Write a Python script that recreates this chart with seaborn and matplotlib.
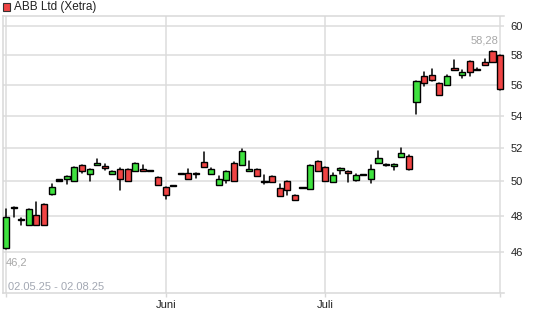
import numpy as np
import pandas as pd
import matplotlib
matplotlib.use("Agg")
import matplotlib.pyplot as plt
from matplotlib.patches import Rectangle
from matplotlib.ticker import FixedLocator, NullLocator
import seaborn as sns

title = "ABB Ltd (Xetra)"
date_range = "02.05.25 - 02.08.25"
month_idx = [0, 21, 42, 65]
month_labels = ["", "Juni", "Juli", ""]
y_ticks = [46, 48, 50, 52, 54, 56, 58, 60]

opens = [46.2, 48.47, 47.8, 47.5, 48.04, 48.67, 49.24, 50.06, 50.1, 49.98,
         50.94, 50.42, 50.94, 50.88, 50.4, 50.74, 50.7, 50.58, 50.7, 50.62,
         50.26, 49.64, 49.76, 50.44, 50.46, 50.44, 51.12, 50.44, 49.76, 50.04,
         51.06, 50.94, 50.62, 50.74, 50.0, 50.28, 49.58, 49.98, 49.18, 49.64,
         49.56, 51.18, 50.82, 49.93, 50.64, 50.58, 50.08, 50.4, 50.14, 51.06,
         51.02, 50.9, 51.44, 51.5, 54.89, 56.57, 56.63, 56.1, 56.0, 57.1,
         56.63, 57.57, 57.0, 57.52, 58.28, 57.98]
highs = [48.4, 48.5, 47.85, 48.38, 48.77, 48.67, 49.84, 50.06, 50.28, 50.82,
         50.96, 50.72, 51.32, 51.02, 50.58, 50.76, 50.72, 51.06, 50.96, 50.62,
         50.26, 49.64, 49.76, 50.44, 50.72, 50.46, 51.72, 50.78, 50.32, 50.58,
         51.14, 51.9, 51.2, 50.74, 50.35, 50.28, 49.8, 49.98, 49.18, 49.64,
         50.94, 51.18, 50.82, 50.48, 50.76, 50.58, 50.4, 50.4, 50.94, 51.8,
         51.02, 51.02, 52.0, 51.56, 56.23, 56.86, 57.05, 56.1, 56.65, 57.65,
         57.0, 57.57, 57.14, 57.7, 58.28, 57.98]
lows = [46.15, 47.95, 47.5, 47.5, 47.5, 47.5, 49.16, 50.06, 49.84, 49.98,
        50.5, 50.0, 50.94, 50.68, 50.4, 49.49, 49.98, 50.58, 50.58, 50.62,
        49.74, 48.93, 49.76, 50.44, 50.1, 50.2, 50.82, 50.44, 49.76, 49.88,
        49.98, 50.94, 50.62, 50.28, 49.85, 49.93, 49.13, 49.16, 48.89, 49.64,
        49.56, 50.58, 49.98, 49.93, 50.4, 49.97, 50.0, 50.4, 49.88, 51.06,
        50.92, 50.68, 51.44, 50.68, 54.1, 55.92, 56.23, 55.33, 56.0, 56.97,
        56.43, 56.6, 57.0, 57.3, 57.54, 55.65]
closes = [47.95, 48.47, 47.8, 48.38, 47.5, 47.5, 49.64, 50.06, 50.28, 50.82,
          50.62, 50.7, 51.08, 50.76, 50.58, 50.14, 49.98, 51.06, 50.58, 50.62,
          49.74, 49.2, 49.76, 50.44, 50.1, 50.42, 50.82, 50.7, 50.14, 50.58,
          49.98, 51.78, 50.74, 50.28, 50.0, 49.93, 49.13, 49.47, 48.89, 49.64,
          50.94, 50.58, 49.98, 50.34, 50.76, 50.46, 50.34, 50.4, 50.7, 51.36,
          51.0, 51.02, 51.7, 50.74, 56.23, 56.14, 56.3, 55.33, 56.57, 56.97,
          56.84, 56.84, 57.0, 57.3, 57.54, 55.7]

n = len(opens)
idx = np.arange(n)
df = pd.DataFrame({"idx": idx, "open": opens, "high": highs, "low": lows, "close": closes})

sns.set_theme(style="white")
plt.rcParams["font.family"] = ["Liberation Sans", "DejaVu Sans"]

fig = plt.figure(figsize=(5.45, 3.27), dpi=100)
W, H = 545, 327
x_left_px, x_right_px = 3, 503.5
y_top_px, y_bot_px = 16, 293
ax = fig.add_axes([x_left_px / W, 1 - y_bot_px / H,
                   (x_right_px - x_left_px) / W, (y_bot_px - y_top_px) / H])

ax.set_yscale("log")

# wicks via seaborn
wick = pd.concat([df[["idx", "low"]].rename(columns={"low": "price"}),
                  df[["idx", "high"]].rename(columns={"high": "price"})]).sort_values("idx")
sns.lineplot(data=wick, x="idx", y="price", units="idx", estimator=None, sort=False,
             color="black", lw=1.1, ax=ax, legend=False, zorder=2)

# bodies
green, red = "#3fe23f", "#f04444"
lo_b = np.minimum(df["open"], df["close"]).to_numpy()
hi_b = np.maximum(df["open"], df["close"]).to_numpy()
cols = []
for o, c in zip(opens, closes):
    if c > o + 0.02:
        cols.append(green)
    elif c < o - 0.02:
        cols.append(red)
    else:
        cols.append("black")
mid = (lo_b + hi_b) / 2
small = (hi_b - lo_b) < 0.06
lo_b = np.where(small, mid - 0.03, lo_b)
hi_b = np.where(small, mid + 0.03, hi_b)
ax.bar(idx, hi_b - lo_b, bottom=lo_b, width=0.8, color=cols, edgecolor="black",
       linewidth=1.0, zorder=3, clip_on=False)

ax.set_xlim(-0.4, 65.45)
ax.set_ylim(43.83, 60.71)

ax.yaxis.set_major_locator(FixedLocator(y_ticks))
ax.yaxis.set_minor_locator(NullLocator())
ax.set_yticklabels([str(t) for t in y_ticks])
ax.yaxis.tick_right()
ax.tick_params(axis="y", length=0, pad=5, labelsize=8, labelcolor="#222222")
ax.set_xticks(month_idx)
ax.set_xticklabels(month_labels)
ax.tick_params(axis="x", length=3, width=1, color="#d8d8d8", pad=2, labelsize=8,
               labelcolor="#222222", bottom=True)
ax.set_xlabel("")
ax.set_ylabel("")
ax.grid(True, axis="both", color="#dcdcdc", lw=1.1, zorder=0)
ax.set_axisbelow(True)
for s in ["left", "top", "bottom"]:
    ax.spines[s].set_color("#d8d8d8")
    ax.spines[s].set_linewidth(1.1)
    ax.spines[s].set_visible(True)
ax.spines["right"].set_visible(False)

# min / max labels
imin = int(np.argmin(lows))
imax = int(np.argmax(highs))
ax.annotate(f"{lows[imin]:.1f}".replace(".", ",") if False else "46,2",
            xy=(imin, lows[imin]), xytext=(0, -13), textcoords="offset pixels",
            ha="left", va="center", fontsize=8, color="#a8a8a8")
ax.annotate(f"{highs[imax]:.2f}".replace(".", ","),
            xy=(65, highs[imax]), xytext=(-2, 10), textcoords="offset pixels",
            ha="right", va="center", fontsize=8, color="#a8a8a8")

ax.text((8 - x_left_px) / (x_right_px - x_left_px), (y_bot_px - 287) / (y_bot_px - y_top_px),
        date_range, transform=ax.transAxes, ha="left", va="center", fontsize=8, color="#a3a8b3")

fig.patches.append(Rectangle((3 / W, 1 - 10.5 / H), 7 / W, 7 / H, transform=fig.transFigure,
                             facecolor=red, edgecolor="#333333", lw=0.8))
fig.text(14 / W, 1 - 7 / H, title, ha="left", va="center", fontsize=8.5, color="#222222")

fig.savefig("out.png", dpi=100)
